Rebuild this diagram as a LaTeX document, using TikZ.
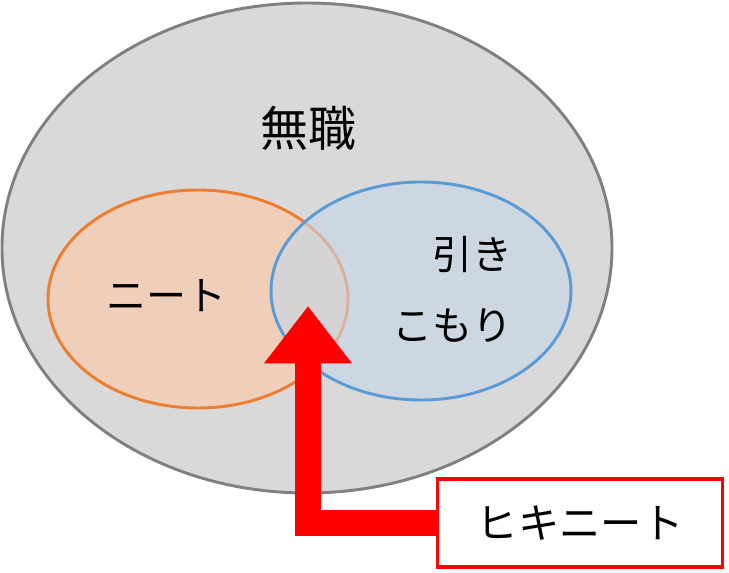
\documentclass[tikz,border=0pt]{standalone}
\usepackage{fontspec}
\newfontfamily\jpfont{Noto Sans CJK JP}
\usetikzlibrary{arrows.meta, positioning}
\definecolor{setgray}{HTML}{D9D9D9}
\definecolor{setorange}{HTML}{ED7D31}
\definecolor{setblue}{HTML}{5B9BD5}
\definecolor{orangefill}{HTML}{F0CFBA}
\definecolor{bluefill}{HTML}{C5D7E8}
\tikzset{
	setlabel/.style={font=\jpfont\fontsize{30}{34}\selectfont},
}
\begin{document}
\begin{tikzpicture}[x=0.75pt, y=-0.75pt]
	\useasboundingbox (0,0) rectangle (729,573);
	% outer set
	\draw[line width=2.2pt, gray, fill=setgray] (307,248) ellipse [x radius=305, y radius=245];
	\node[setlabel, font=\jpfont\fontsize{36}{40}\selectfont] (mushoku) at (308,128) {無職};
	% inner sets
	\draw[line width=2.2pt, setorange, fill=orangefill] (198,299) ellipse [x radius=150, y radius=109];
	\draw[line width=2.2pt, setblue, fill=bluefill, fill opacity=0.6] (421,291) ellipse [x radius=150, y radius=109];
	\node[setlabel] (neet) at (166,296) {ニート};
	\node[setlabel] (hiki) at (472,255) {引き};
	\node[setlabel] (komori) at (452,326) {こもり};
	% box and arrow
	\node[draw=red, line width=2.5pt, fill=white, minimum width=214pt, minimum height=66pt,
		setlabel, font=\jpfont\fontsize{31}{35}\selectfont] (hikineet) at (580,523) {ヒキニート};
	\coordinate (tip) at (308,306);
	\draw[red, line width=19.5pt, -{Triangle[length=43pt, width=63pt]}]
		(hikineet.west) -| (tip);
\end{tikzpicture}
\end{document}
